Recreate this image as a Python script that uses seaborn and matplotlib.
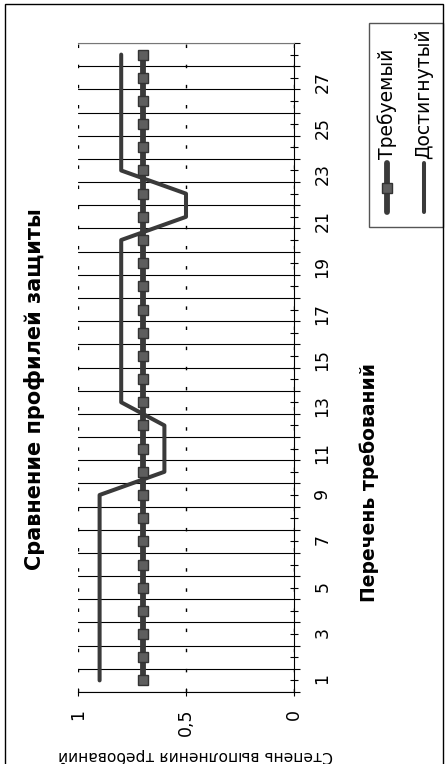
import numpy as np
import pandas as pd
import matplotlib
matplotlib.use("Agg")
import matplotlib.pyplot as plt
import seaborn as sns
from matplotlib.lines import Line2D
from matplotlib.patches import Rectangle

# ---- data ----
categories = list(range(1, 29))
required = [0.7] * 28
achieved = [0.9] * 9 + [0.6] * 3 + [0.8] * 8 + [0.5] * 2 + [0.8] * 6
series_names = ["Требуемый", "Достигнутый"]
value_ticks = [0, 0.5, 1]
value_tick_labels = ["0", "0,5", "1"]
category_tick_labels = [str(c) if c % 2 == 1 else "" for c in categories]
title_text = "Сравнение профилей защиты"
cat_axis_title = "Перечень требований"
val_axis_title = "Степень выполнения требований"

sns.set_theme(style="white")
plt.rcParams["font.family"] = ["DejaVu Sans"]

W, H = 446, 764
fig = plt.figure(figsize=(W / 100, H / 100), dpi=100)
fig.patch.set_facecolor("white")


def fx(px):
    return px / W


def fy(py):
    return 1 - py / H


ax = fig.add_axes([fx(78), fy(692), fx(294) - fx(78), fy(43) - fy(692)])
ax.set_facecolor("white")

line_color = "#3a3a3a"
req_style = dict(color=line_color, linewidth=4.2, marker="s", markersize=6.5,
                 markerfacecolor="#5e5e5e", markeredgecolor="#333333",
                 markeredgewidth=1.0, solid_capstyle="round")
ach_style = dict(color=line_color, linewidth=2.9, solid_capstyle="round")

df = pd.DataFrame({"cat": categories, "req": required, "ach": achieved})
sns.lineplot(data=df, x="ach", y="cat", orient="y", sort=False, ax=ax,
             estimator=None, zorder=3, **ach_style)
sns.lineplot(data=df, x="req", y="cat", orient="y", sort=False, ax=ax,
             estimator=None, zorder=4, **req_style)

ax.set_xlim(1, 0)
ax.set_ylim(categories[0] - 0.5, categories[-1] + 0.5)
ax.set_xlabel("")
ax.set_ylabel("")

# category axis (vertical, on the right)
ax.yaxis.tick_right()
ax.set_yticks(categories)
ax.set_yticklabels(category_tick_labels)
ax.set_yticks(np.arange(categories[0] - 0.5, categories[-1] + 1, 1), minor=True)
ax.tick_params(axis="y", which="major", direction="inout", length=5.8,
               width=0.8, color="black", labelsize=12.5, labelrotation=90,
               pad=11, right=True, left=False, labelcolor="black")
ax.tick_params(axis="y", which="minor", direction="out", length=4.3,
               width=0.8, color="black", right=True, left=False)
ax.grid(axis="y", which="minor", color="black", linewidth=0.8)

# value axis (horizontal, at bottom)
ax.set_xticks(value_ticks)
ax.set_xticklabels(value_tick_labels)
ax.tick_params(axis="x", which="major", direction="inout", length=5.8,
               width=0.8, color="black", labelsize=12.5, labelrotation=90,
               pad=9, bottom=True, labelcolor="black")
ax.grid(axis="x", which="major", color="black", linewidth=1.0,
        linestyle=(0, (2.5, 12)))

ax.spines["left"].set_visible(False)
ax.spines["right"].set_color("black")
ax.spines["right"].set_linewidth(0.8)
ax.spines["bottom"].set_color("black")
ax.spines["bottom"].set_linewidth(0.8)
ax.spines["top"].set_color("#777777")
ax.spines["top"].set_linewidth(0.8)

# titles (rotated like the reference)
fig.text(fx(35), fy(389), title_text, rotation=90, ha="center", va="center",
         fontsize=15, fontweight="bold", color="black")
fig.text(fx(369), fy(483), cat_axis_title, rotation=90, ha="center",
         va="center", fontsize=13.5, fontweight="bold", color="black")
fig.text(fx(196), fy(756), val_axis_title, rotation=180, ha="center",
         va="center", fontsize=11.2, color="black")

# legend (drawn rotated)
fig.add_artist(Rectangle((fx(369), fy(227)), fx(443) - fx(369),
                         fy(23) - fy(227), transform=fig.transFigure,
                         fill=False, edgecolor="#555555", linewidth=1.0))
leg_x = [387, 424]
styles = [req_style, ach_style]
for name, lx, st in zip(series_names, leg_x, styles):
    st2 = dict(st)
    if "marker" in st2:
        st2["markevery"] = [1]
    fig.add_artist(Line2D([fx(lx)] * 3, [fy(212), fy(188), fy(163)],
                          transform=fig.transFigure, **st2))
    fig.text(fx(lx), fy(159), name, rotation=90, ha="center", va="bottom",
             fontsize=13.5, color="black")

# outer border
fig.add_artist(Rectangle((fx(5), fy(767)), fx(443) - fx(5), fy(4) - fy(767),
                         transform=fig.transFigure, fill=False,
                         edgecolor="black", linewidth=1.0))

fig.savefig("out.png", dpi=100)
